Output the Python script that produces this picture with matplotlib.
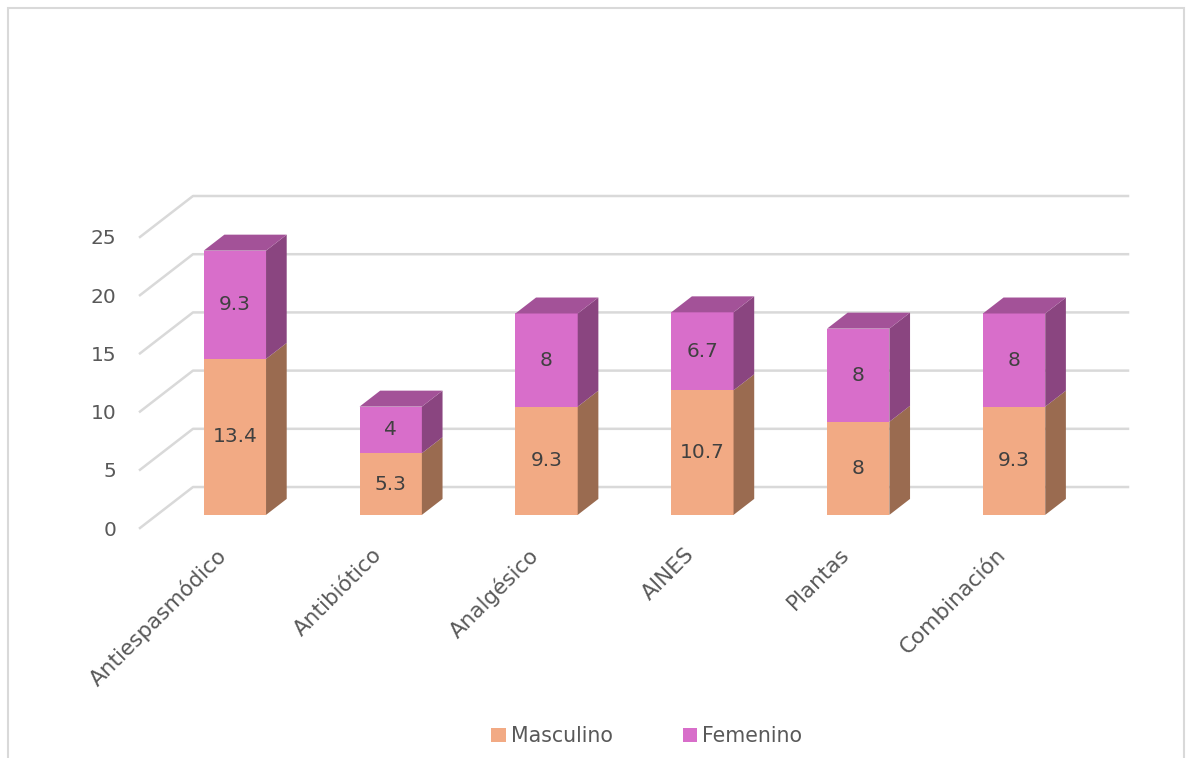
import numpy as np
import matplotlib.pyplot as plt
from matplotlib.patches import Polygon, Rectangle, Patch

categorias = ['Antiespasmódico', 'Antibiótico', 'Analgésico', 'AINES', 'Plantas', 'Combinación']
masculino = [13.4, 5.3, 9.3, 10.7, 8, 9.3]
femenino = [9.3, 4, 8, 6.7, 8, 8]
yticks = [0, 5, 10, 15, 20, 25]

# colores (frente, lado, arriba)
col_m = ('#F2AA84', '#9A6B50', '#B07A5E')
col_f = ('#D86ECA', '#8A4580', '#A35298')
grid_col = '#D9D9D9'
txt_col = '#404040'

# profundidad "3D" en unidades de datos
Dx, Dy = 0.34, 3.52
f0, f1 = 0.32, 0.71
w = 0.40

fig = plt.figure(figsize=(11.89, 7.58), dpi=100)
ax = fig.add_axes([140/1189, 1 - 528/758, 988/1189, 332/758])
ax.set_xlim(-0.5, len(categorias) - 0.5 + Dx)
ax.set_ylim(0, 25 + Dy)

# rejilla: diagonal a la izquierda + linea en la pared del fondo
for v in yticks:
    ax.plot([-0.5, -0.5 + Dx, len(categorias) - 0.5 + Dx], [v, v + Dy, v + Dy],
            color=grid_col, lw=1.8, clip_on=False, zorder=1)


def caja(x, b, h, cols, top):
    xl = x - w/2 + f0*Dx
    xr = x + w/2 + f0*Dx
    y0 = b + f0*Dy
    y1 = b + h + f0*Dy
    ddx = (f1 - f0)*Dx
    ddy = (f1 - f0)*Dy
    ax.add_patch(Rectangle((xl, y0), xr - xl, y1 - y0, facecolor=cols[0], edgecolor='none', zorder=3))
    ax.add_patch(Polygon([(xr, y0), (xr + ddx, y0 + ddy), (xr + ddx, y1 + ddy), (xr, y1)],
                         closed=True, facecolor=cols[1], edgecolor='none', zorder=3))
    if top:
        ax.add_patch(Polygon([(xl, y1), (xr, y1), (xr + ddx, y1 + ddy), (xl + ddx, y1 + ddy)],
                             closed=True, facecolor=cols[2], edgecolor='none', zorder=3))
    ax.text((xl + xr)/2, (y0 + y1)/2, f'{h:g}', ha='center', va='center',
            fontsize=14.5, color=txt_col, zorder=4)


for i, (m, f) in enumerate(zip(masculino, femenino)):
    caja(i, 0, m, col_m, False)
    caja(i, m, f, col_f, True)
    ax.text(i + f0*Dx - 0.12, -1.4, categorias[i], rotation=45, ha='right', va='top',
            rotation_mode='anchor', fontsize=15.5, color='#595959', clip_on=False)

ax.set_yticks(yticks)
ax.set_xticks([])
ax.tick_params(axis='y', length=0, pad=17, labelsize=14.5, labelcolor='#595959')
for s in ax.spines.values():
    s.set_visible(False)

handles = [Patch(facecolor=col_m[0], label='Masculino'), Patch(facecolor=col_f[0], label='Femenino')]
fig.legend(handles=handles, loc='center', bbox_to_anchor=(0.544, 1 - 736/758), ncol=2,
           frameon=False, fontsize=14.8, handlelength=0.7, handleheight=0.7,
           handletextpad=0.25, columnspacing=3.4, labelcolor='#595959')

fig.patches.append(Rectangle((8/1189, -0.02), 1176/1189, 750/758 + 0.02, transform=fig.transFigure,
                             fill=False, edgecolor=grid_col, lw=1.5))

fig.savefig('out.png', dpi=100)
